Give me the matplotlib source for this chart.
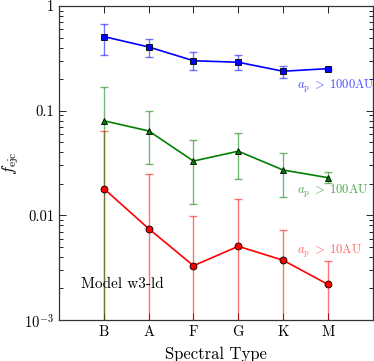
import matplotlib
matplotlib.use("Agg")
import matplotlib.pyplot as plt
from matplotlib.ticker import FixedLocator, FixedFormatter, LogLocator, NullFormatter

plt.rcParams['font.family'] = 'cmr10'
plt.rcParams['mathtext.fontset'] = 'cm'
plt.rcParams['axes.unicode_minus'] = False

# spectral types
types = ['B', 'A', 'F', 'G', 'K', 'M']
xpos = [1, 2, 3, 4, 5, 6]

# a_p > 1000 AU
blue_val = [0.51, 0.406, 0.30, 0.29, 0.238, 0.252]
blue_hi = [0.677, 0.487, 0.36, 0.338, 0.269, 0.258]
blue_lo = [0.338, 0.326, 0.245, 0.245, 0.205, 0.247]

# a_p > 100 AU
green_val = [0.080, 0.064, 0.033, 0.041, 0.0271, 0.0229]
green_hi = [0.17, 0.0986, 0.0528, 0.0607, 0.0398, 0.0258]
green_lo = [1e-5, 0.0307, 0.0128, 0.0221, 0.0151, 0.0202]

# a_p > 10 AU
red_val = [0.018, 0.00745, 0.0033, 0.00506, 0.00372, 0.00219]
red_hi = [0.064, 0.0247, 0.00993, 0.0144, 0.00724, 0.00364]
red_lo = [1e-5, 1e-5, 1e-5, 1e-5, 1e-5, 1e-5]

fig = plt.figure(figsize=(3.74, 3.61), dpi=100)
ax = fig.add_axes([0.158, 0.1136, 0.8385, 0.8698])


def draw(val, lo, hi, color, marker):
    err = [[v - l for v, l in zip(val, lo)], [h - v for v, h in zip(val, hi)]]
    ax.errorbar(xpos, val, yerr=err, fmt='none', ecolor=color, alpha=0.55,
                elinewidth=1.0, capsize=3, capthick=1.0, zorder=2)
    ax.plot(xpos, val, color=color, linewidth=1.2, marker=marker,
            markersize=5, markerfacecolor=color, markeredgecolor='black',
            markeredgewidth=0.6, zorder=3)


draw(red_val, red_lo, red_hi, 'red', 'o')
draw(green_val, green_lo, green_hi, 'green', '^')
draw(blue_val, blue_lo, blue_hi, 'blue', 's')

ax.set_yscale('log')
ax.set_ylim(1e-3, 1)
ax.set_xlim(0, 7)

ax.yaxis.set_major_locator(FixedLocator([1e-3, 0.01, 0.1, 1]))
ax.yaxis.set_major_formatter(FixedFormatter(['$10^{-3}$', '0.01', '0.1', '1']))
ax.yaxis.set_minor_locator(LogLocator(base=10, subs=range(2, 10)))
ax.yaxis.set_minor_formatter(NullFormatter())
ax.set_xticks(xpos)
ax.set_xticklabels(types)

ax.tick_params(which='both', direction='in', top=True, right=True, labelsize=10.5)
ax.tick_params(which='major', length=5, width=0.6)
ax.tick_params(which='minor', length=3, width=0.6)
ax.tick_params(axis='x', which='minor', top=False, bottom=False)
for s in ax.spines.values():
    s.set_linewidth(0.9)
    s.set_color('#333333')

ax.set_xlabel('Spectral Type', fontsize=12, labelpad=6)
ax.set_ylabel(r'$f_{\rm ejc}$', fontsize=12)
ax.yaxis.set_label_coords(-0.12, 0.5)

ax.text(5.3, 0.172, r'$a_{\rm p}\;>\;1000$AU', color='blue', alpha=0.7,
        fontsize=9, va='center')
ax.text(5.3, 0.0168, r'$a_{\rm p}\;>\;100$AU', color='green', alpha=0.7,
        fontsize=9, va='center')
ax.text(5.3, 0.0045, r'$a_{\rm p}\;>\;10$AU', color='red', alpha=0.6,
        fontsize=9, va='center')
ax.text(0.49, 0.0022, 'Model w3-ld', color='black', fontsize=11, va='center')

fig.savefig('out.png', dpi=100)
